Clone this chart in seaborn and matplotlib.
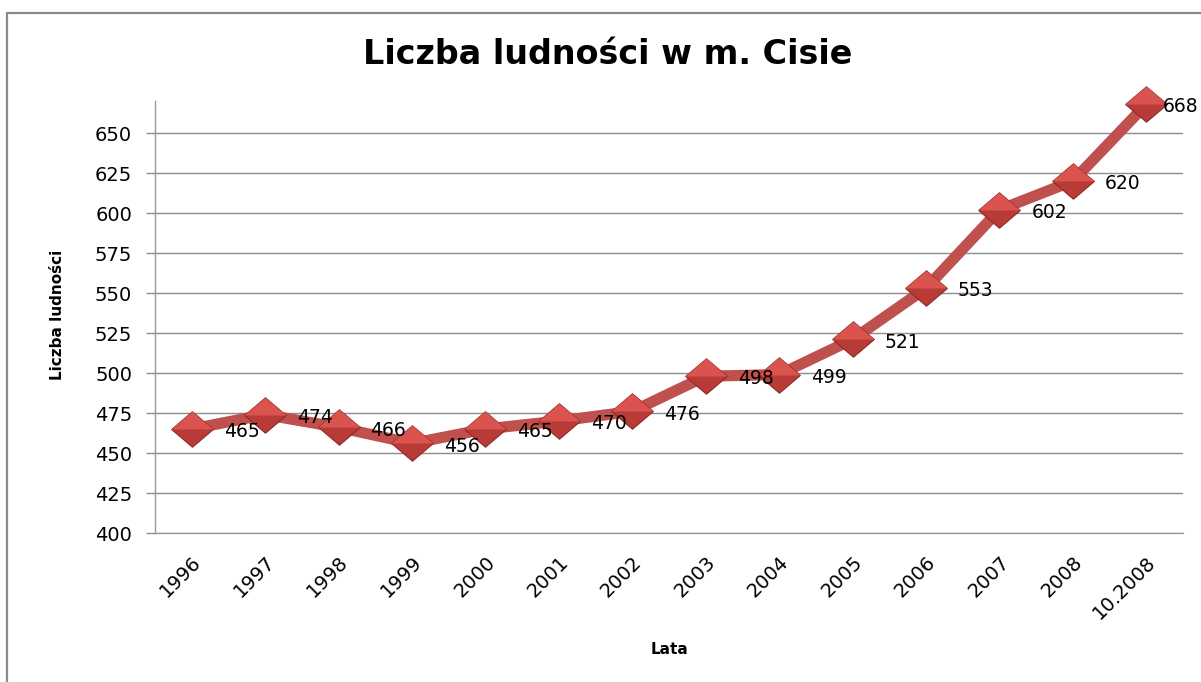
import matplotlib
matplotlib.use("Agg")
import matplotlib.pyplot as plt
from matplotlib.patches import Rectangle
import seaborn as sns
import pandas as pd

# data
years = ["1996", "1997", "1998", "1999", "2000", "2001", "2002",
         "2003", "2004", "2005", "2006", "2007", "2008", "10.2008"]
population = [465, 474, 466, 456, 465, 470, 476, 498, 499, 521, 553, 602, 620, 668]
y_ticks = [400, 425, 450, 475, 500, 525, 550, 575, 600, 625, 650]

df = pd.DataFrame({"Lata": years, "Liczba": population})

sns.set_style("white")
plt.rcParams["font.family"] = ["DejaVu Sans"]
plt.rcParams["text.color"] = "black"
plt.rcParams["xtick.color"] = "black"
plt.rcParams["ytick.color"] = "black"

line_red = "#C0504D"

fig = plt.figure(figsize=(12.01, 6.82), dpi=100)
ax = fig.add_axes([155 / 1201, 1 - 533 / 682, (1183 - 155) / 1201, (533 - 101) / 682])

# grey frame around the chart (cut at the right edge like the original)
fig.patches.append(Rectangle((7 / 1201, -0.1), 1.2, 1 - 13 / 682 + 0.1,
                             transform=fig.transFigure, fill=False,
                             edgecolor="#8A8A8A", linewidth=1.6))

sns.lineplot(data=df, x="Lata", y="Liczba", ax=ax, color=line_red,
             linewidth=8, sort=False, zorder=3)

# diamond markers with a bit of shading
x_pos = list(range(len(years)))
diamond = [(-1, 0), (0, 0.85), (1, 0), (0, -0.85), (-1, 0)]
top_half = [(-1, 0), (0, 0.85), (1, 0), (-1, 0)]
ax.plot(x_pos, population, linestyle="none", marker=diamond, markersize=30,
        markerfacecolor="#B83B37", markeredgecolor="#8E2A27", markeredgewidth=0.8,
        zorder=4, clip_on=False)
ax.plot(x_pos, population, linestyle="none", marker=top_half, markersize=30,
        markerfacecolor="#DA534E", markeredgecolor="none", zorder=5, clip_on=False)

# data labels to the right of points
for i, v in enumerate(population):
    dx = 23 if i < len(population) - 1 else 12
    ax.annotate(str(v), (i, v), xytext=(dx, -2), textcoords="offset points",
                ha="left", va="center", fontsize=13.5, color="black", zorder=6)

ax.set_ylim(400, 670)
ax.set_xlim(-0.5, len(years) - 0.5)
ax.set_yticks(y_ticks)
ax.yaxis.grid(True, color="#8C8C8C", linewidth=1)
ax.set_axisbelow(True)

ax.set_xticks(x_pos)
ax.set_xticklabels(years, rotation=45, ha="right", va="top", rotation_mode="anchor")
ax.set_xticks([i - 0.5 for i in range(len(years) + 1)], minor=True)
ax.tick_params(axis="x", which="major", length=0, pad=14, labelsize=14)
ax.tick_params(axis="x", which="minor", length=6.5, color="#8C8C8C", width=1)
ax.tick_params(axis="y", which="major", length=6.5, color="#8C8C8C", width=1,
               labelsize=14, pad=10)
ax.tick_params(left=True, bottom=True)

for side in ["top", "right"]:
    ax.spines[side].set_visible(False)
for side in ["left", "bottom"]:
    ax.spines[side].set_color("#9A9A9A")
    ax.spines[side].set_linewidth(1)

ax.set_xlabel("")
ax.set_ylabel("")
fig.text(608 / 1201, 1 - 55 / 682, "Liczba ludności w m. Cisie", ha="center",
         va="center", fontsize=24, fontweight="bold")
fig.text(58 / 1201, 1 - 315 / 682, "Liczba ludności", rotation=90, ha="center",
         va="center", fontsize=11, fontweight="bold")
fig.text(670 / 1201, 1 - 650 / 682, "Lata", ha="center", va="center",
         fontsize=11, fontweight="bold")

fig.savefig("out.png", dpi=100)
